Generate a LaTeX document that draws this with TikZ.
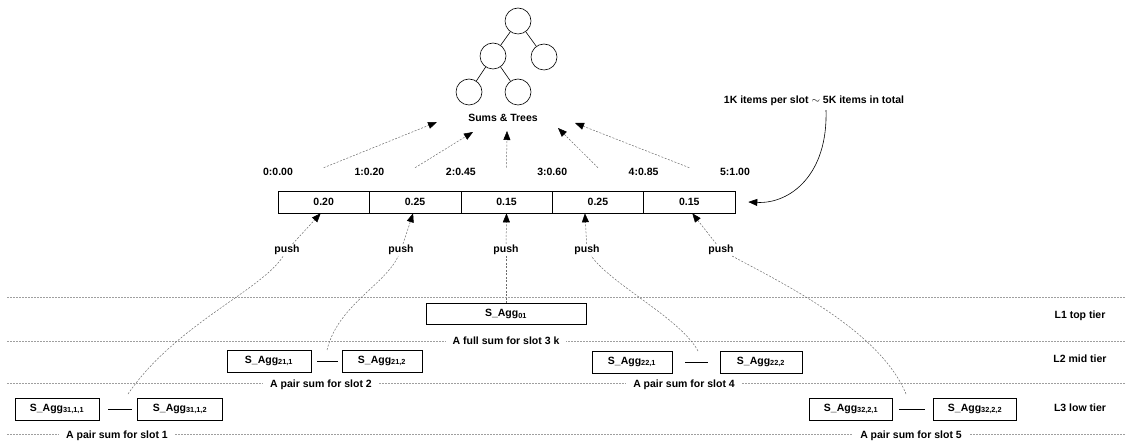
\documentclass[tikz,border=0pt]{standalone}
\usepackage{fontspec}
\setmainfont{Liberation Sans}
\usetikzlibrary{arrows.meta,calc}
\newcommand{\lo}[1]{\textsubscript{#1}}
\begin{document}
\begin{tikzpicture}[x=1pt,y=-1pt,
  txt/.style={font=\bfseries\fontsize{10.5}{12}\selectfont, inner sep=1pt},
  circ/.style={draw, circle, minimum size=26pt, inner sep=0pt, line width=0.6pt},
  cell/.style={draw, minimum width=91.4pt, minimum height=22pt, inner sep=0pt, line width=0.6pt, txt},
  box/.style={draw, minimum height=21pt, inner sep=0pt, line width=0.8pt, txt},
  sep/.style={gray!75, dash pattern=on 2pt off 1pt, line width=0.5pt},
  flow/.style={gray!85!black, dash pattern=on 2pt off 1.5pt, line width=0.5pt},
  tip/.style={-{Triangle[length=9pt,width=7pt,black]}},
  lvl/.style={txt, fill=white, inner xsep=7pt},
  pair/.style={line width=1pt}]
\useasboundingbox (0,0) rectangle (1131,443);

% tree
\node[circ] (t1) at (518,21) {};
\node[circ] (t2) at (493,56) {};
\node[circ] (t3) at (544,57) {};
\node[circ] (t4) at (469,92) {};
\node[circ] (t5) at (518,92) {};
\draw[line width=0.6pt] (t1) -- (t2) (t1) -- (t3) (t2) -- (t4) (t2) -- (t5);
\node[txt] (tl) at (503,118) {Sums \& Trees};

% top-right note
\node[txt] (note) at (814,101) {1K items per slot $\sim$ 5K items in total};

% slot array
\foreach \i/\v in {1/0.20,2/0.25,3/0.15,4/0.25,5/0.15}
  \node[cell] (a\i) at ({278+91.4*(\i-0.5)},202) {\v};

% boundary labels
\foreach \i/\v in {0/0:0.00,1/1:0.20,2/2:0.45,3/3:0.60,4/4:0.85,5/5:1.00}
  \node[txt] (b\i) at ({278+91.4*\i},172) {\v};

% arrows from the slots up to the tree
\foreach \i in {1,...,5} \coordinate (u\i) at ([yshift=23pt]a\i.north);
\coordinate (h1) at (437,122);
\coordinate (h2) at (473,132);
\coordinate (h3) at (507,131);
\coordinate (h4) at (558,128);
\coordinate (h5) at (575,123);
\foreach \i in {1,...,5} \draw[flow,tip] (u\i) -- (h\i);

% note arrow
\draw[line width=0.6pt,-{Triangle[length=9pt,width=7pt]}] (note.south) ++(12,3) .. controls (828,175) and (790,204) .. ([xshift=13pt]a5.east);

% level separators
\foreach \y in {297,341,383,434} \draw[sep] (7,\y) -- (1125,\y);

% level 1
\node[box, minimum width=160pt] (l1) at (506,314) {S\_Agg\lo{01}};
\node[lvl] (d1) at (506,341) {A full sum for slot 3 k};

% level 2
\node[box, minimum width=84pt, minimum height=22pt] (l21) at (269,361) {S\_Agg\lo{21,1}};
\node[box, minimum width=80pt, minimum height=22pt] (l22) at (382,361) {S\_Agg\lo{21,2}};
\node[box, minimum width=80pt, minimum height=22pt] (l23) at (632,362) {S\_Agg\lo{22,1}};
\node[box, minimum width=82pt, minimum height=22pt] (l24) at (761,362) {S\_Agg\lo{22,2}};
\draw[pair, shorten <=6pt, shorten >=4pt] (l21.east) -- (l22.west);
\draw[pair, shorten <=13pt, shorten >=12pt] (l23.east) -- (l24.west);
\node[lvl] (d2) at (321,385) {A pair sum for slot 2};
\node[lvl] (d3) at (684,385) {A pair sum for slot 4};

% level 3
\node[box, minimum width=84pt, minimum height=22pt] (l31) at (57,409) {S\_Agg\lo{31,1,1}};
\node[box, minimum width=85pt, minimum height=22pt] (l32) at (180,409) {S\_Agg\lo{31,1,2}};
\node[box, minimum width=83pt, minimum height=22pt] (l33) at (851,409) {S\_Agg\lo{32,2,1}};
\node[box, minimum width=83pt, minimum height=22pt] (l34) at (975,409) {S\_Agg\lo{32,2,2}};
\draw[pair, shorten <=9pt, shorten >=5pt] (l31.east) -- (l32.west);
\draw[pair, shorten <=6pt, shorten >=8pt] (l33.east) -- (l34.west);
\node[lvl] (d4) at (117,436) {A pair sum for slot 1};
\node[lvl] (d5) at (911,436) {A pair sum for slot 5};

% tier names
\node[txt] (n1) at (1080,316) {L1 top tier};
\node[txt] (n2) at (1080,359) {L2 mid tier};
\node[txt] (n3) at (1080,408) {L3 low tier};

% edge labels
\node[txt, fill=white] (e1) at (287,250) {push};
\node[txt, fill=white] (e2) at (401,250) {push};
\node[txt, fill=white] (e3) at (506,250) {push};
\node[txt, fill=white] (e4) at (587,250) {push};
\node[txt, fill=white] (e5) at (721,250) {push};

% flows from the levels into the slots
\coordinate (s1) at (128,394);
\coordinate (s2) at (327,350);
\coordinate (s4) at (698,351);
\coordinate (s5) at (906,394);
\draw[flow] (s1) .. controls (175,325) and (262,290) .. (e1);
\draw[flow] (s2) .. controls (338,305) and (385,285) .. (e2);
\draw[flow] (l1.north) -- (e3);
\draw[flow] (s4) .. controls (680,318) and (612,285) .. (e4);
\draw[flow] (s5) .. controls (880,330) and (780,282) .. (e5);
\draw[flow,tip] (e1) -- ([xshift=-3pt]a1.south);
\draw[flow,tip] (e2) -- ([xshift=-2pt]a2.south);
\draw[flow,tip] (e3) -- (a3.south);
\draw[flow,tip] (e4) -- ([xshift=-13pt]a4.south);
\draw[flow,tip] (e5) -- ([xshift=3pt]a5.south);
\end{tikzpicture}
\end{document}
